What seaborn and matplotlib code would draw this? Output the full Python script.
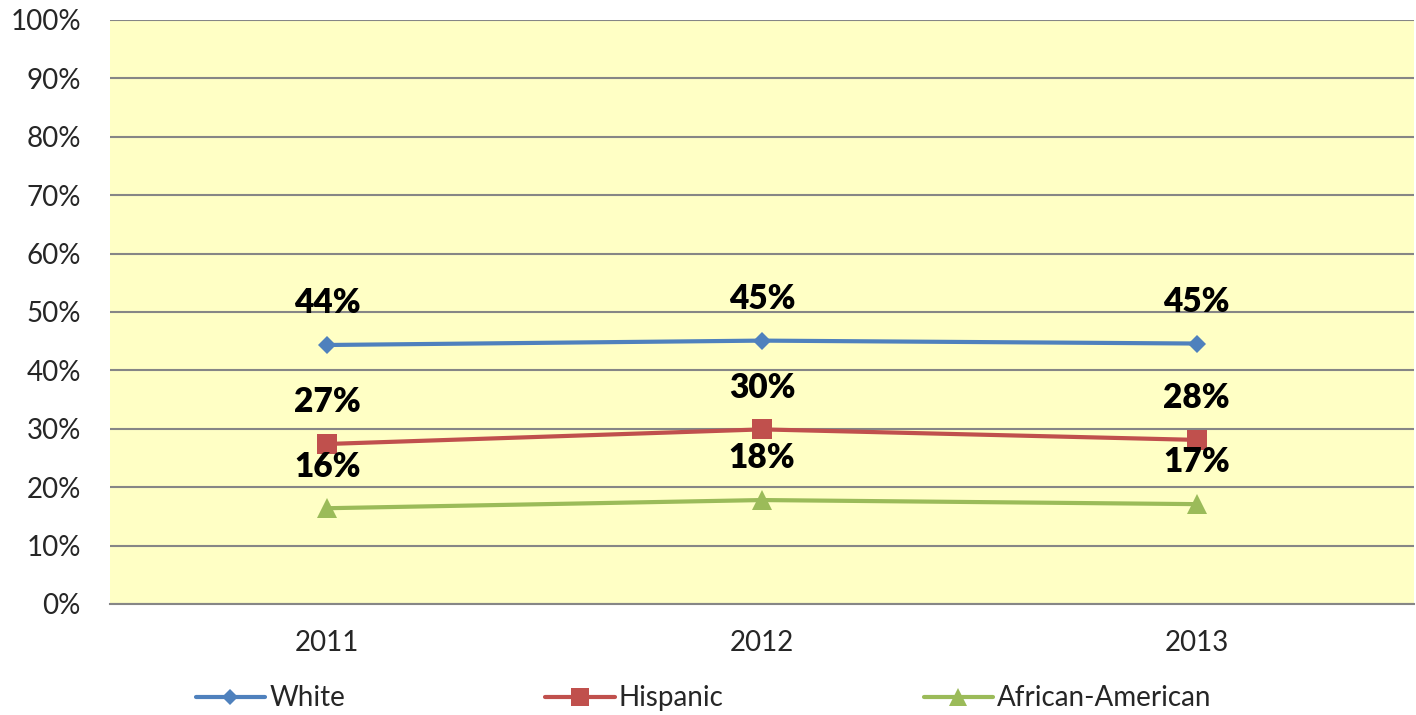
import matplotlib
matplotlib.use('Agg')
import matplotlib.pyplot as plt
import pandas as pd
import seaborn as sns

years = [2011, 2012, 2013]
white = [44.35, 45.1, 44.6]
hispanic = [27.4, 29.9, 28.1]
african_american = [16.4, 17.8, 17.1]
groups = ['White', 'Hispanic', 'African-American']

df = pd.DataFrame({
    'Year': years * 3,
    'Pct': white + hispanic + african_american,
    'Group': [g for g in groups for _ in years],
})

sns.set_theme(style='white')
plt.rcParams['font.family'] = ['Lato', 'DejaVu Sans']

colors = {'White': '#4F81BD', 'Hispanic': '#C0504D', 'African-American': '#9BBB59'}
markers = {'White': 'D', 'Hispanic': 's', 'African-American': '^'}
msizes = {'White': 9.5, 'Hispanic': 14.5, 'African-American': 14.5}

fig = plt.figure(figsize=(14.16, 7.15), dpi=100)
ax = fig.add_axes([110 / 1416, 1 - 604 / 715, 1304 / 1416, 584 / 715])
ax.set_facecolor('#FFFFC5')

for g in groups:
    sub = df[df['Group'] == g]
    sns.lineplot(data=sub, x='Year', y='Pct', ax=ax, color=colors[g],
                 marker=markers[g], markersize=msizes[g], linewidth=3,
                 markeredgewidth=0, label=g, zorder=3)
    for x, y in zip(sub['Year'], sub['Pct']):
        ax.annotate(f'{y:.0f}%', (x, y), xytext=(0, 30), textcoords='offset points',
                    ha='center', va='center', fontsize=24, fontweight='heavy',
                    color='black', zorder=4)

ax.set_xlim(2010.5, 2013.5)
ax.set_ylim(0, 100)
ax.set_yticks(range(0, 101, 10))
ax.set_yticklabels([f'{v}%' for v in range(0, 101, 10)])
ax.set_xticks(years)
ax.set_xticklabels([str(y) for y in years])
ax.grid(axis='y', color='#868686', linewidth=1.5)
ax.grid(axis='x', visible=False)
for s in ['left', 'right', 'top']:
    ax.spines[s].set_visible(False)
ax.spines['bottom'].set_color('#868686')
ax.spines['bottom'].set_linewidth(1.5)
ax.tick_params(axis='y', length=0, pad=21, labelsize=20)
ax.tick_params(axis='x', length=0, pad=19, labelsize=20)
ax.set_xlabel('')
ax.set_ylabel('')

ax.get_legend().remove()
handles, labels = ax.get_legend_handles_labels()
fig.legend(handles, labels, loc='lower center', bbox_to_anchor=(0.497, -0.03), ncol=3,
           frameon=False, fontsize=20, handlelength=2.5, handletextpad=0.15,
           columnspacing=7.2, markerscale=0.85)

fig.savefig('out.png', dpi=100)
